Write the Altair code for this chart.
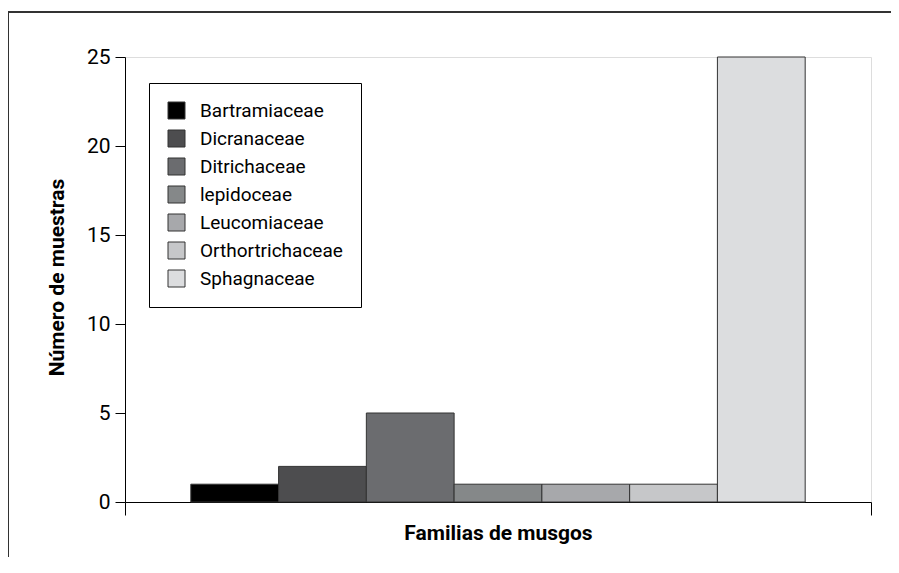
import altair as alt
import pandas as pd

familias = ["Bartramiaceae", "Dicranaceae", "Ditrichaceae", "lepidoceae",
            "Leucomiaceae", "Orthortrichaceae", "Sphagnaceae"]
muestras = [1, 2, 5, 1, 1, 1, 25]
colores = ["#000000", "#4d4d4f", "#6b6c6f", "#858889", "#a7a8ab", "#c6c7c9", "#dcdddf"]
y_ticks = [0, 5, 10, 15, 20, 25]

FONT = "Roboto, Liberation Sans, sans-serif"

df = pd.DataFrame({
    "familia": familias,
    "muestras": muestras,
    "pos": list(range(1, len(familias) + 1)),
})

W, H = 746, 445

bars = alt.Chart(df).transform_calculate(
    x0="datum.pos - 0.5", x1="datum.pos + 0.5"
).mark_bar(stroke="#333333", strokeWidth=1, opacity=1).encode(
    x=alt.X("x0:Q",
            scale=alt.Scale(domain=[-0.25, 8.25], nice=False, zero=False),
            axis=alt.Axis(values=[-0.25, 8.25], labels=False, tickSize=13,
                          grid=False, title="Familias de musgos",
                          titleFontSize=21, titleFont=FONT, titleFontWeight="bold",
                          titleColor="black", titleBaseline="alphabetic", titleY=37,
                          domainColor="black", tickColor="black")),
    x2="x1:Q",
    y=alt.Y("muestras:Q",
            scale=alt.Scale(domain=[0, 25], nice=False),
            axis=alt.Axis(values=y_ticks, grid=False, tickSize=10, labelPadding=5,
                          labelFontSize=21, labelFont=FONT, labelColor="black",
                          title="Número de muestras", titleFontSize=21, titleFont=FONT,
                          titleFontWeight="bold", titleColor="black",
                          titleAngle=270, titleBaseline="alphabetic",
                          titleX=-62, titleY=220,
                          domainColor="black", tickColor="black")),
    y2=alt.datum(0),
    color=alt.Color("familia:N",
                    scale=alt.Scale(domain=familias, range=colores),
                    legend=alt.Legend(title=None, orient="none", legendX=24, legendY=26,
                                      direction="vertical",
                                      fillColor="white", strokeColor="black",
                                      padding=18, symbolType="square", symbolSize=289,
                                      symbolStrokeColor="#333333", symbolStrokeWidth=1,
                                      symbolOpacity=1,
                                      labelFontSize=19, labelFont=FONT, labelColor="black",
                                      labelOffset=14, rowPadding=7,
                                      labelLimit=300)),
)

frame_left = alt.Chart(df).mark_rule(color="#333333", strokeWidth=1.2).encode(
    x=alt.value(-117), y=alt.value(-45), y2=alt.value(520)
)
frame_top = alt.Chart(df).mark_rule(color="#333333", strokeWidth=1.2).encode(
    x=alt.value(-117), x2=alt.value(800), y=alt.value(-45)
)

chart = alt.layer(bars, frame_left, frame_top).properties(
    width=W, height=H,
    autosize=alt.AutoSizeParams(type="none"),
    padding={"left": 117, "top": 49, "right": 20, "bottom": 55},
).configure_view(stroke="black", strokeWidth=1).configure(background="white")

chart.save("out.html", embed_options={"renderer": "svg", "actions": False})
